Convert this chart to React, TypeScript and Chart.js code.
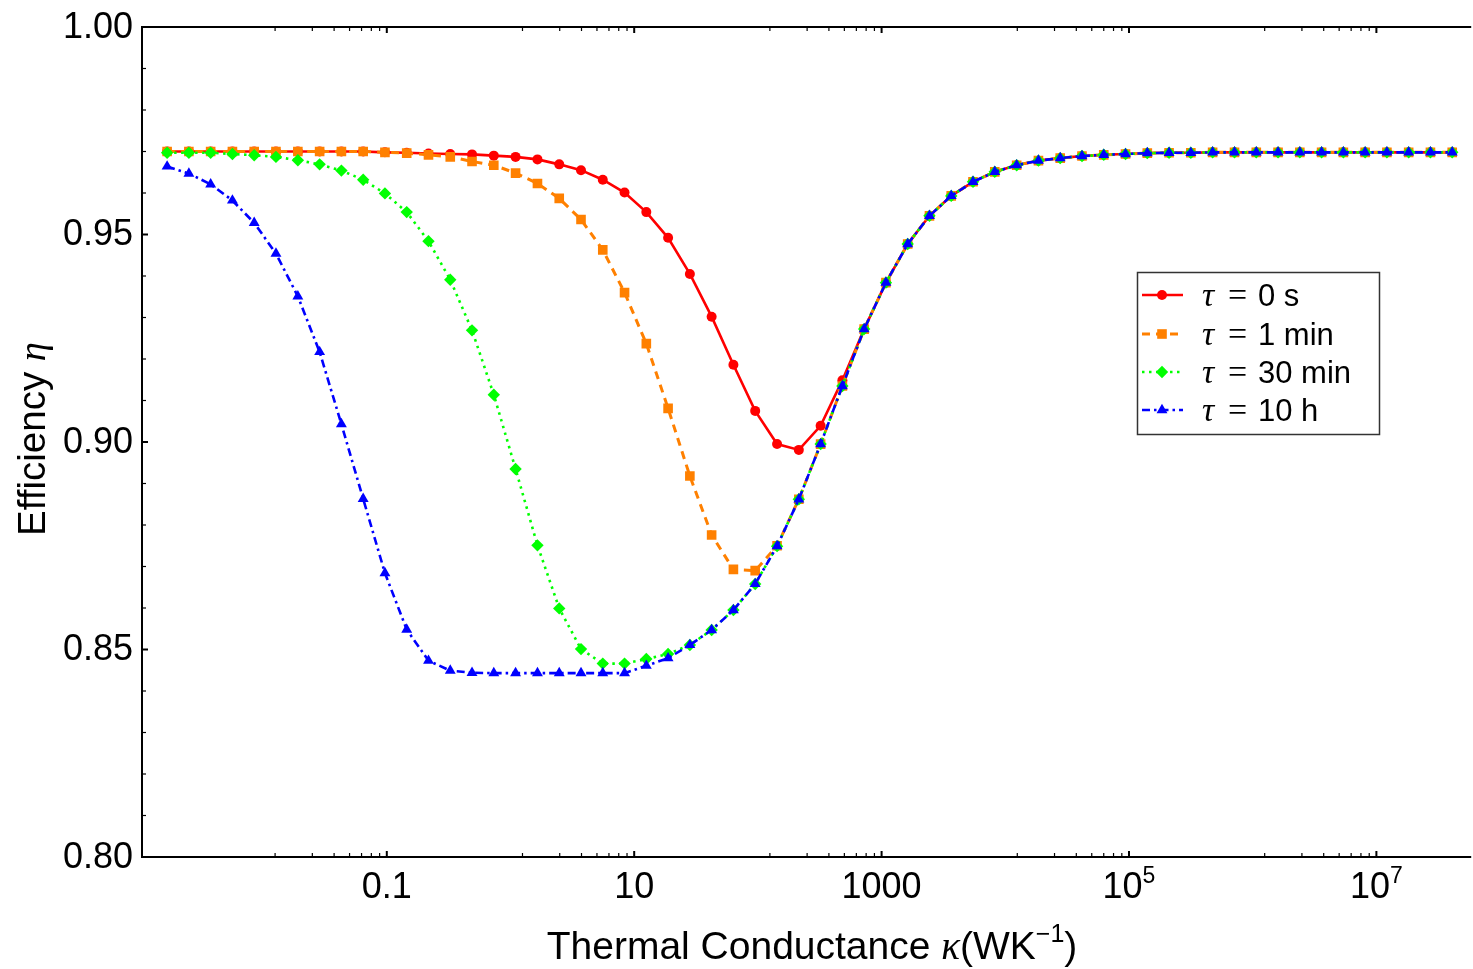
import React, { useEffect, useRef } from 'react';
import { Chart, registerables } from 'chart.js';

Chart.register(...registerables);

// log10 of thermal conductance kappa (W/K) at each sample
const logKappa = [
  -2.776, -2.600, -2.424, -2.248, -2.072, -1.896, -1.719, -1.543, -1.367, -1.191,
  -1.015, -0.839, -0.663, -0.487, -0.311, -0.135, 0.041, 0.218, 0.394, 0.570,
  0.746, 0.922, 1.098, 1.274, 1.450, 1.626, 1.802, 1.978, 2.155, 2.331,
  2.507, 2.683, 2.859, 3.035, 3.211, 3.387, 3.563, 3.739, 3.915, 4.092,
  4.268, 4.444, 4.620, 4.796, 4.972, 5.148, 5.324, 5.500, 5.676, 5.853,
  6.029, 6.205, 6.381, 6.557, 6.733, 6.909, 7.085, 7.261, 7.437, 7.613,
];

const etaTau0s = [
  0.9700, 0.9700, 0.9700, 0.9700, 0.9700, 0.9700, 0.9700, 0.9700, 0.9700, 0.9700,
  0.9698, 0.9697, 0.9695, 0.9694, 0.9693, 0.9690, 0.9687, 0.9681, 0.9669, 0.9655,
  0.9632, 0.9601, 0.9554, 0.9492, 0.9405, 0.9302, 0.9186, 0.9075, 0.8995, 0.8981,
  0.9039, 0.9149, 0.9272, 0.9384, 0.9477, 0.9545, 0.9593, 0.9627, 0.9651, 0.9667,
  0.9678, 0.9684, 0.9689, 0.9692, 0.9694, 0.9696, 0.9697, 0.9697, 0.9698, 0.9698,
  0.9698, 0.9698, 0.9698, 0.9698, 0.9698, 0.9698, 0.9698, 0.9698, 0.9698, 0.9698,
];

const etaTau1min = [
  0.9700, 0.9700, 0.9700, 0.9700, 0.9700, 0.9700, 0.9700, 0.9700, 0.9700, 0.9700,
  0.9698, 0.9696, 0.9692, 0.9687, 0.9676, 0.9667, 0.9648, 0.9623, 0.9587, 0.9536,
  0.9463, 0.9360, 0.9237, 0.9081, 0.8918, 0.8776, 0.8693, 0.8690, 0.8750, 0.8862,
  0.8995, 0.9135, 0.9272, 0.9384, 0.9477, 0.9545, 0.9593, 0.9627, 0.9651, 0.9667,
  0.9678, 0.9684, 0.9689, 0.9692, 0.9694, 0.9696, 0.9697, 0.9697, 0.9698, 0.9698,
  0.9698, 0.9698, 0.9698, 0.9698, 0.9698, 0.9698, 0.9698, 0.9698, 0.9698, 0.9698,
];

const etaTau30min = [
  0.9697, 0.9697, 0.9697, 0.9694, 0.9691, 0.9687, 0.9679, 0.9669, 0.9654, 0.9632,
  0.9599, 0.9554, 0.9484, 0.9391, 0.9269, 0.9114, 0.8935, 0.8751, 0.8599, 0.8501,
  0.8466, 0.8466, 0.8477, 0.8489, 0.8511, 0.8547, 0.8595, 0.8658, 0.8749, 0.8862,
  0.8995, 0.9135, 0.9272, 0.9384, 0.9477, 0.9545, 0.9593, 0.9627, 0.9651, 0.9667,
  0.9678, 0.9684, 0.9689, 0.9692, 0.9694, 0.9696, 0.9697, 0.9697, 0.9698, 0.9698,
  0.9698, 0.9698, 0.9698, 0.9698, 0.9698, 0.9698, 0.9698, 0.9698, 0.9698, 0.9698,
];

const etaTau10h = [
  0.9664, 0.9647, 0.9621, 0.9582, 0.9528, 0.9454, 0.9351, 0.9217, 0.9043, 0.8863,
  0.8684, 0.8548, 0.8473, 0.8449, 0.8444, 0.8443, 0.8443, 0.8443, 0.8443, 0.8443,
  0.8443, 0.8443, 0.8461, 0.8479, 0.8511, 0.8547, 0.8595, 0.8658, 0.8749, 0.8862,
  0.8995, 0.9135, 0.9272, 0.9384, 0.9477, 0.9545, 0.9593, 0.9627, 0.9651, 0.9667,
  0.9678, 0.9684, 0.9689, 0.9692, 0.9694, 0.9696, 0.9697, 0.9697, 0.9698, 0.9698,
  0.9698, 0.9698, 0.9698, 0.9698, 0.9698, 0.9698, 0.9698, 0.9698, 0.9698, 0.9698,
];

const seriesValues = [etaTau0s, etaTau1min, etaTau30min, etaTau10h];
const seriesTau = ['0 s', '1 min', '30 min', '10 h'];

// axis ticks
const yMajorTicks = [0.8, 0.85, 0.9, 0.95, 1.0];
const yTickLabels = ['0.80', '0.85', '0.90', '0.95', '1.00'];
const yMinorStep = 0.01;
const xMajorTicks = [0.1, 10, 1000, 1e5, 1e7];
const xTickBase = ['0.1', '10', '1000', '10', '10'];
const xTickExp = ['', '', '', '5', '7'];
const xMinorFractions = [0.125, 0.25, 0.375, 0.5, 0.625, 0.75, 0.875];

const X_MIN_LOG = -2.979;
const X_MAX_LOG = 7.726;

type MarkerKind = 'circle' | 'rect' | 'rectRot' | 'triangle';
type Style = { color: string; dash: number[]; width: number; marker: MarkerKind; radius: number };

const styles: Style[] = [
  { color: '#ff0000', dash: [], width: 2.6, marker: 'circle', radius: 5 },
  { color: '#ff8000', dash: [8, 6], width: 3, marker: 'rect', radius: 6.8 },
  { color: '#00ff00', dash: [2.5, 4.5], width: 2.6, marker: 'rectRot', radius: 6.2 },
  { color: '#0000ff', dash: [8, 4, 2.5, 4], width: 2.6, marker: 'triangle', radius: 6.3 },
];

const SANS = '"Liberation Sans", Arial, sans-serif';
const SERIF = '"Liberation Serif", "Times New Roman", serif';

function drawMarker(ctx: CanvasRenderingContext2D, kind: MarkerKind, x: number, y: number, r: number, color: string) {
  ctx.save();
  ctx.fillStyle = color;
  ctx.setLineDash([]);
  ctx.beginPath();
  if (kind === 'circle') {
    ctx.arc(x, y, r, 0, Math.PI * 2);
  } else if (kind === 'rect') {
    const s = r * Math.SQRT1_2;
    ctx.rect(x - s, y - s, 2 * s, 2 * s);
  } else if (kind === 'rectRot') {
    ctx.moveTo(x, y - r);
    ctx.lineTo(x + r, y);
    ctx.lineTo(x, y + r);
    ctx.lineTo(x - r, y);
    ctx.closePath();
  } else {
    for (let k = 0; k < 3; k++) {
      const a = (k * 2 * Math.PI) / 3;
      const px = x + Math.sin(a) * r;
      const py = y - Math.cos(a) * r;
      if (k === 0) ctx.moveTo(px, py);
      else ctx.lineTo(px, py);
    }
    ctx.closePath();
  }
  ctx.fill();
  ctx.restore();
}

type Seg = { text: string; font: string; dy?: number };

function richWidth(ctx: CanvasRenderingContext2D, segs: Seg[]) {
  let w = 0;
  for (const s of segs) {
    ctx.font = s.font;
    w += ctx.measureText(s.text).width;
  }
  return w;
}

function drawRich(ctx: CanvasRenderingContext2D, segs: Seg[], x: number, baseline: number, center: boolean) {
  let cx = center ? x - richWidth(ctx, segs) / 2 : x;
  ctx.textBaseline = 'alphabetic';
  ctx.textAlign = 'left';
  for (const s of segs) {
    ctx.font = s.font;
    ctx.fillText(s.text, cx, baseline + (s.dy || 0));
    cx += ctx.measureText(s.text).width;
  }
}

const framePlugin = {
  id: 'mmaFrame',
  afterDraw(chart: any) {
    const { ctx, chartArea: a } = chart;
    const xs = chart.scales.x;
    const ys = chart.scales.y;
    ctx.save();
    ctx.fillStyle = '#000';
    ctx.strokeStyle = '#000';

    // frame
    ctx.lineWidth = 2;
    ctx.setLineDash([]);
    ctx.beginPath();
    ctx.moveTo(a.right + 5, a.top);
    ctx.lineTo(a.left, a.top);
    ctx.lineTo(a.left, a.bottom);
    ctx.lineTo(a.right + 5, a.bottom);
    ctx.stroke();

    // x ticks (bottom and top, inward)
    const xTick = (v: number, len: number, w: number) => {
      const px = xs.getPixelForValue(v);
      if (px < a.left || px > a.right) return;
      ctx.lineWidth = w;
      ctx.beginPath();
      ctx.moveTo(px, a.bottom);
      ctx.lineTo(px, a.bottom - len);
      ctx.moveTo(px, a.top);
      ctx.lineTo(px, a.top + len);
      ctx.stroke();
    };
    xMajorTicks.forEach((m) => {
      xMinorFractions.forEach((f) => xTick(m * f, 4, 1.2));
      xTick(m, 6, 2);
    });

    // y ticks (left, inward)
    const yTick = (v: number, len: number, w: number) => {
      const py = ys.getPixelForValue(v);
      ctx.lineWidth = w;
      ctx.beginPath();
      ctx.moveTo(a.left, py);
      ctx.lineTo(a.left + len, py);
      ctx.stroke();
    };
    for (let v = 0.8 + yMinorStep; v < 1.0 - 1e-6; v += yMinorStep) {
      const isMajor = yMajorTicks.some((m) => Math.abs(m - v) < 1e-6);
      if (!isMajor) yTick(v, 4, 1.2);
    }
    yMajorTicks.forEach((m) => yTick(m, 6, 2));

    // y tick labels
    ctx.font = `36px ${SANS}`;
    ctx.textAlign = 'right';
    ctx.textBaseline = 'middle';
    yMajorTicks.forEach((m, i) => {
      ctx.fillText(yTickLabels[i], a.left - 9, ys.getPixelForValue(m) + 1);
    });

    // x tick labels
    xMajorTicks.forEach((m, i) => {
      const px = xs.getPixelForValue(m);
      const segs: Seg[] = [{ text: xTickBase[i], font: `36px ${SANS}` }];
      if (xTickExp[i]) segs.push({ text: xTickExp[i], font: `23px ${SANS}`, dy: -15 });
      drawRich(ctx, segs, px, a.bottom + 41, true);
    });

    // x axis title
    drawRich(
      ctx,
      [
        { text: 'Thermal Conductance ', font: `39px ${SANS}` },
        { text: 'κ', font: `italic 39px ${SERIF}` },
        { text: '(WK', font: `39px ${SANS}` },
        { text: '−1', font: `25px ${SANS}`, dy: -17 },
        { text: ')', font: `39px ${SANS}` },
      ],
      812,
      959,
      true,
    );

    // y axis title (rotated)
    ctx.save();
    ctx.translate(45, 439);
    ctx.rotate(-Math.PI / 2);
    drawRich(
      ctx,
      [
        { text: 'Efficiency ', font: `38.5px ${SANS}` },
        { text: 'η', font: `italic 38.5px ${SERIF}` },
      ],
      0,
      0,
      true,
    );
    ctx.restore();

    // legend
    const lx = 1137.5, ly = 272.5, lw = 242, lh = 162;
    ctx.fillStyle = '#fff';
    ctx.fillRect(lx, ly, lw, lh);
    ctx.strokeStyle = '#333';
    ctx.lineWidth = 1.5;
    ctx.strokeRect(lx, ly, lw, lh);
    const rowY = [295, 334, 372, 410];
    styles.forEach((s, i) => {
      const yy = rowY[i];
      ctx.save();
      ctx.strokeStyle = s.color;
      ctx.lineWidth = s.width;
      ctx.setLineDash(s.dash);
      ctx.beginPath();
      ctx.moveTo(1142, yy);
      ctx.lineTo(1183, yy);
      ctx.stroke();
      ctx.restore();
      drawMarker(ctx, s.marker, 1162, yy, s.radius, s.color);
      ctx.fillStyle = '#000';
      ctx.textAlign = 'left';
      ctx.textBaseline = 'alphabetic';
      ctx.font = `italic 34px ${SERIF}`;
      ctx.fillText('τ', 1202, yy + 11);
      ctx.font = `34px ${SERIF}`;
      ctx.fillText('=', 1228, yy + 11);
      ctx.font = `31px ${SANS}`;
      ctx.fillText(seriesTau[i], 1258, yy + 11);
    });

    ctx.restore();
  },
};

export default function App() {
  const canvasRef = useRef<HTMLCanvasElement | null>(null);

  useEffect(() => {
    const canvas = canvasRef.current;
    if (!canvas) return;
    const datasets = seriesValues.map((vals, si) => {
      const s = styles[si];
      return {
        label: `τ = ${seriesTau[si]}`,
        data: logKappa.map((lk, i) => ({ x: Math.pow(10, lk), y: vals[i] })),
        borderColor: s.color,
        backgroundColor: s.color,
        borderWidth: s.width,
        borderDash: s.dash,
        borderCapStyle: 'butt' as const,
        tension: 0,
        fill: false,
        pointStyle: s.marker,
        pointRadius: s.radius,
        pointBackgroundColor: s.color,
        pointBorderColor: s.color,
        pointBorderWidth: 0,
        order: 4 - si,
      };
    });

    const chart = new Chart(canvas, {
      type: 'line',
      data: { datasets },
      options: {
        animation: false,
        responsive: false,
        maintainAspectRatio: false,
        devicePixelRatio: 1,
        layout: { padding: { left: 142, top: 27, right: 0, bottom: 112 } },
        scales: {
          x: {
            type: 'logarithmic',
            min: Math.pow(10, X_MIN_LOG),
            max: Math.pow(10, X_MAX_LOG),
            display: false,
          },
          y: { type: 'linear', min: 0.8, max: 1.0, display: false },
        },
        plugins: {
          legend: { display: false },
          tooltip: { enabled: false },
        },
      },
      plugins: [framePlugin],
    } as any);

    return () => chart.destroy();
  }, []);

  return (
    <div style={{ position: 'fixed', left: 0, top: 0, width: 1473, height: 969, background: '#fff', overflow: 'hidden' }}>
      <canvas ref={canvasRef} width={1473} height={969} style={{ display: 'block', width: 1473, height: 969 }} />
    </div>
  );
}
